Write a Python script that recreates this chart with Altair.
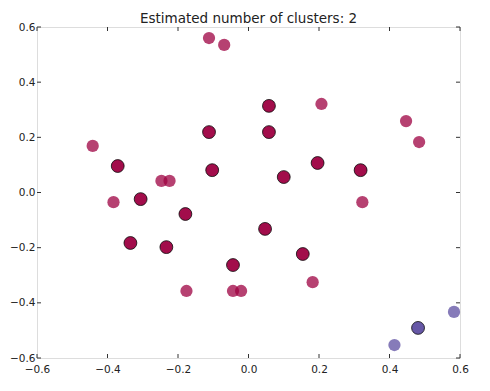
import altair as alt
import pandas as pd

# Core samples (cluster 0 = red, cluster 1 = purple)
core_x = [-0.371, -0.306, -0.335, -0.233, -0.179, -0.112, -0.103, -0.044, 0.047, 0.058, 0.058, 0.100, 0.196, 0.318, 0.154, 0.481]
core_y = [0.096, -0.024, -0.183, -0.198, -0.078, 0.219, 0.081, -0.263, -0.132, 0.314, 0.219, 0.056, 0.107, 0.081, -0.223, -0.491]
core_c = [0, 0, 0, 0, 0, 0, 0, 0, 0, 0, 0, 0, 0, 0, 0, 1]

# Non-core samples
edge_x = [-0.442, -0.383, -0.247, -0.224, -0.112, -0.069, -0.176, -0.044, -0.021, 0.207, 0.447, 0.484, 0.323, 0.182, 0.414, 0.583]
edge_y = [0.169, -0.035, 0.042, 0.042, 0.560, 0.535, -0.357, -0.357, -0.357, 0.321, 0.259, 0.183, -0.035, -0.325, -0.553, -0.433]
edge_c = [0, 0, 0, 0, 0, 0, 0, 0, 0, 0, 0, 0, 0, 0, 1, 1]

ticks = [-0.6, -0.4, -0.2, 0.0, 0.2, 0.4, 0.6]
title_text = "Estimated number of clusters: 2"

W, H = 423, 331

core_df = pd.DataFrame({"x": core_x, "y": core_y, "c": core_c})
edge_df = pd.DataFrame({"x": edge_x, "y": edge_y, "c": edge_c})
tick_df = pd.DataFrame({"t": ticks})

xs = alt.Scale(domain=[-0.6, 0.6], nice=False, zero=False)
ys = alt.Scale(domain=[-0.6, 0.6], nice=False, zero=False)
cs = alt.Scale(domain=[0, 1], range=["#9e0142", "#5e4fa2"])

axis_common = dict(format=".1f", values=ticks, grid=False, domain=False, ticks=False,
                   labelFlush=False, labelOverlap=False,
                   labelFont="DejaVu Sans", labelFontSize=10.5, labelColor="#222")

xenc = alt.X("x:Q", scale=xs, axis=alt.Axis(title=None, labelPadding=6, **axis_common))
yenc = alt.Y("y:Q", scale=ys, axis=alt.Axis(title=None, labelPadding=2, **axis_common))

edge_pts = alt.Chart(edge_df).mark_circle(size=150, opacity=0.75).encode(
    x=xenc, y=yenc, color=alt.Color("c:N", scale=cs, legend=None)
)
core_pts = alt.Chart(core_df).mark_point(filled=True, size=165, opacity=0.95, shape="circle",
                                         stroke="black", strokeWidth=1, strokeOpacity=0.8).encode(
    x=alt.X("x:Q", scale=xs), y=alt.Y("y:Q", scale=ys),
    fill=alt.Fill("c:N", scale=cs, legend=None)
)

tick_color = "#333"
xb = alt.Chart(tick_df).mark_rule(color=tick_color).encode(
    x=alt.X("t:Q", scale=xs), y=alt.value(H), y2=alt.value(H - 4))
xt = alt.Chart(tick_df).mark_rule(color=tick_color).encode(
    x=alt.X("t:Q", scale=xs), y=alt.value(0), y2=alt.value(4))
yl = alt.Chart(tick_df).mark_rule(color=tick_color).encode(
    y=alt.Y("t:Q", scale=ys), x=alt.value(0), x2=alt.value(4))
yr = alt.Chart(tick_df).mark_rule(color=tick_color).encode(
    y=alt.Y("t:Q", scale=ys), x=alt.value(W), x2=alt.value(W - 4))

chart = alt.layer(edge_pts, core_pts, xb, xt, yl, yr).properties(
    width=W, height=H,
    title=alt.TitleParams(title_text, font="DejaVu Sans", fontSize=13.5, fontWeight="normal",
                          color="#222", offset=0, dy=3),
    autosize=alt.AutoSizeParams(type="none"),
    padding={"left": 29, "top": 19, "right": 20, "bottom": 20},
).configure_view(stroke="#444", strokeWidth=1.2).configure(background="white")

chart.save("out.html", embed_options={"renderer": "svg", "actions": False})
